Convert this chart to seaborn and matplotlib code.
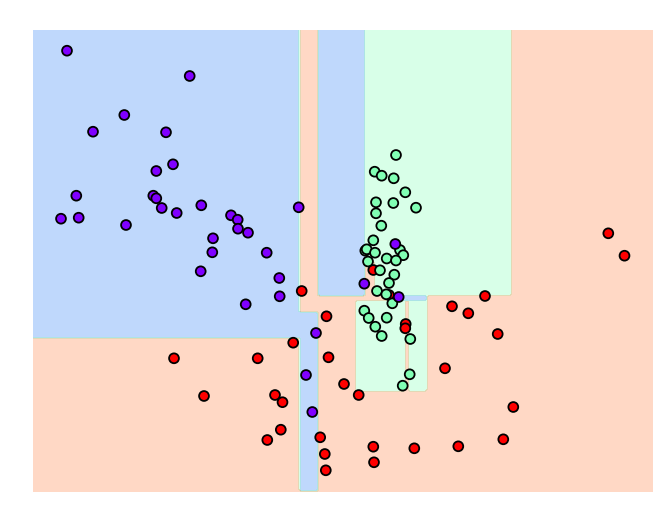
import numpy as np
import pandas as pd
import matplotlib
matplotlib.use("Agg")
import matplotlib.pyplot as plt
import seaborn as sns

# puntos (x a la derecha, y hacia abajo)
purple_x = [67.0, 189.7, 124.3, 93.0, 166.0, 173.0, 156.3, 76.3, 153.3, 156.3,
            161.7, 176.7, 201.3, 61.0, 78.7, 126.0, 231.0, 237.7, 238.0, 248.0,
            213.0, 212.3, 266.7, 298.7, 200.7, 279.3, 279.7, 245.7, 316.0, 306.0,
            312.3, 395.3, 364.3, 398.7]
purple_y = [50.7, 76.0, 115.0, 131.7, 132.3, 164.3, 171.0, 195.7, 195.7, 198.3,
            208.0, 213.0, 205.3, 218.7, 217.7, 225.0, 215.3, 219.7, 228.7, 232.7,
            238.3, 252.3, 252.7, 207.3, 271.3, 278.0, 296.3, 304.3, 333.0, 375.0,
            412.0, 244.0, 283.7, 297.0]

red_x = [301.7, 326.5, 293.2, 174.0, 257.7, 328.5, 344.0, 204.0, 275.0, 282.5,
         280.8, 267.3, 320.2, 324.8, 325.8, 358.7, 373.3, 374.0, 414.3, 458.3,
         503.3, 513.3, 445.0, 497.7, 452.0, 468.3, 485.0, 405.7, 405.3, 373.3,
         389.0, 608.3, 624.5]
red_y = [291.0, 316.3, 342.7, 358.3, 358.3, 357.3, 384.0, 396.0, 395.0, 402.2,
         429.7, 440.0, 437.3, 454.0, 470.3, 395.0, 446.7, 462.3, 448.3, 446.3,
         439.3, 407.0, 368.3, 334.0, 306.3, 313.3, 296.0, 324.0, 328.3, 270.0,
         295.0, 233.3, 255.7]

green_x = [396.0, 374.7, 381.7, 393.7, 405.3, 376.0, 393.3, 416.0, 376.0, 381.3,
           373.3, 365.3, 366.7, 375.0, 400.0, 403.3, 386.7, 396.0, 368.0, 380.0,
           394.3, 389.0, 377.0, 386.3, 392.3, 364.3, 368.7, 386.7, 375.3, 381.7,
           410.3, 409.7, 402.7]
green_y = [155.0, 171.7, 175.7, 178.3, 192.3, 202.3, 203.0, 207.7, 213.3, 225.7,
           240.3, 250.7, 249.3, 252.7, 250.0, 255.2, 258.5, 260.5, 261.5, 270.3,
           274.7, 283.0, 291.0, 294.3, 303.3, 310.7, 318.0, 317.7, 326.7, 336.0,
           339.0, 374.3, 385.7]

# regiones del arbol de decision (clase 0, 1, 2), se pintan en orden
region_x0 = [33, 299, 318, 365, 365, 397, 356, 409]
region_x1 = [299, 318, 365, 511, 373, 427, 405, 427]
region_y0 = [30, 311, 30, 30, 262, 295, 301, 301]
region_y1 = [338, 492, 295, 295, 295, 301, 391, 391]
region_cls = [0, 0, 0, 1, 2, 0, 1, 1]

xlim = (33, 653)
ylim = (492, 30)

df = pd.DataFrame({
    "x": red_x + green_x + purple_x,
    "y": red_y + green_y + purple_y,
    "cls": [2] * len(red_x) + [1] * len(green_x) + [0] * len(purple_x),
})

cmap = plt.get_cmap("rainbow")
palette = {0: cmap(0.0), 1: cmap(0.5), 2: cmap(1.0)}

fig = plt.figure(figsize=(6.71, 5.18), dpi=100)
ax = fig.add_axes([33 / 671, 26 / 518, 620 / 671, 462 / 518])

xx, yy = np.meshgrid(np.linspace(xlim[0], xlim[1], 200),
                     np.linspace(ylim[1], ylim[0], 200))
Z = np.full(xx.shape, 2)
for x0, x1, y0, y1, c in zip(region_x0, region_x1, region_y0, region_y1, region_cls):
    Z[(xx >= x0) & (xx < x1) & (yy >= y0) & (yy < y1)] = c

ax.contourf(xx, yy, Z, levels=np.arange(4) - 0.5, cmap=cmap, alpha=0.3, zorder=1)

sns.scatterplot(data=df, x="x", y="y", hue="cls", palette=palette, s=50,
                edgecolor="black", linewidth=1.3, legend=False, zorder=3, ax=ax)

ax.set_xlim(*xlim)
ax.set_ylim(*ylim)
ax.axis("off")

fig.savefig("out.png", dpi=100)
